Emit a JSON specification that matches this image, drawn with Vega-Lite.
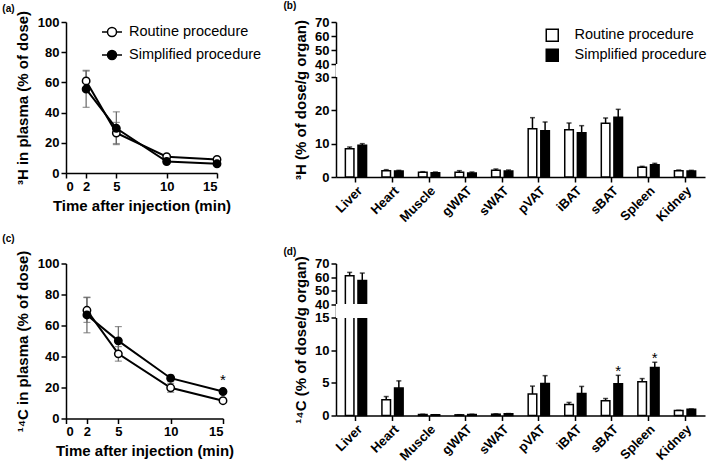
{
  "$schema": "https://vega.github.io/schema/vega-lite/v6.json",
  "padding": {"left": 2, "top": 1, "right": 0, "bottom": 0},
  "background": "white",
  "config": {
    "font": "Liberation Sans",
    "view": {"stroke": null},
    "axis": {"grid": false, "labelOverlap": false, "labelFontSize": 13, "labelFontWeight": "bold", "labelColor": "black", "titleFontSize": 15, "titleFontWeight": "bold", "titleColor": "black", "domainColor": "black", "domainWidth": 1.5, "tickColor": "black", "tickWidth": 1.5, "tickSize": 5},
    "title": {"fontSize": 10, "fontWeight": "bold", "anchor": "start", "frame": "bounds", "color": "black"},
    "legend": {"labelFontSize": 14.5, "labelColor": "black", "labelFontWeight": "normal", "labelFont": "Liberation Sans"}
  },
  "datasets": {
    "plasma3H": [
      {"t": 2, "group": "Routine procedure", "v": 61, "lo": 54, "hi": 68},
      {"t": 5, "group": "Routine procedure", "v": 26.5, "lo": 19.5, "hi": 33.5},
      {"t": 10, "group": "Routine procedure", "v": 10.8, "lo": 9.8, "hi": 11.8},
      {"t": 15, "group": "Routine procedure", "v": 9, "lo": 8.2, "hi": 9.8},
      {"t": 2, "group": "Simplified procedure", "v": 55.6, "lo": 43.5, "hi": 67.5},
      {"t": 5, "group": "Simplified procedure", "v": 29.6, "lo": 18.8, "hi": 40.5},
      {"t": 10, "group": "Simplified procedure", "v": 7.6, "lo": 6.8, "hi": 8.4},
      {"t": 15, "group": "Simplified procedure", "v": 6.1, "lo": 5.5, "hi": 6.7}
    ],
    "plasma14C": [
      {"t": 2, "group": "Routine procedure", "v": 69.8, "lo": 62, "hi": 78, "sig": ""},
      {"t": 5, "group": "Routine procedure", "v": 41.7, "lo": 37, "hi": 46.4, "sig": ""},
      {"t": 10, "group": "Routine procedure", "v": 19.8, "lo": 16.9, "hi": 22.7, "sig": ""},
      {"t": 15, "group": "Routine procedure", "v": 11.5, "lo": 10.5, "hi": 12.5, "sig": ""},
      {"t": 2, "group": "Simplified procedure", "v": 66.8, "lo": 55.3, "hi": 78.3, "sig": ""},
      {"t": 5, "group": "Simplified procedure", "v": 50.1, "lo": 41, "hi": 59.3, "sig": ""},
      {"t": 10, "group": "Simplified procedure", "v": 26, "lo": 24, "hi": 28, "sig": ""},
      {"t": 15, "group": "Simplified procedure", "v": 17.4, "lo": 16.4, "hi": 18.4, "sig": "*"}
    ],
    "organ3H": [
      {"organ": "Liver", "group": "Routine procedure", "v": 8.5, "hi": 9.0},
      {"organ": "Liver", "group": "Simplified procedure", "v": 9.5, "hi": 10.0},
      {"organ": "Heart", "group": "Routine procedure", "v": 1.9, "hi": 2.2},
      {"organ": "Heart", "group": "Simplified procedure", "v": 1.8, "hi": 2.0},
      {"organ": "Muscle", "group": "Routine procedure", "v": 1.4, "hi": 1.6},
      {"organ": "Muscle", "group": "Simplified procedure", "v": 1.3, "hi": 1.5},
      {"organ": "gWAT", "group": "Routine procedure", "v": 1.4, "hi": 1.9},
      {"organ": "gWAT", "group": "Simplified procedure", "v": 1.2, "hi": 1.5},
      {"organ": "sWAT", "group": "Routine procedure", "v": 2.0, "hi": 2.4},
      {"organ": "sWAT", "group": "Simplified procedure", "v": 1.8, "hi": 2.1},
      {"organ": "pVAT", "group": "Routine procedure", "v": 14.5, "hi": 17.8},
      {"organ": "pVAT", "group": "Simplified procedure", "v": 13.9, "hi": 16.5},
      {"organ": "iBAT", "group": "Routine procedure", "v": 14.2, "hi": 16.2},
      {"organ": "iBAT", "group": "Simplified procedure", "v": 13.3, "hi": 15.4},
      {"organ": "sBAT", "group": "Routine procedure", "v": 16.1, "hi": 17.7},
      {"organ": "sBAT", "group": "Simplified procedure", "v": 17.9, "hi": 20.3},
      {"organ": "Spleen", "group": "Routine procedure", "v": 2.9, "hi": 3.2},
      {"organ": "Spleen", "group": "Simplified procedure", "v": 3.7, "hi": 4.1},
      {"organ": "Kidney", "group": "Routine procedure", "v": 1.9, "hi": 2.1},
      {"organ": "Kidney", "group": "Simplified procedure", "v": 1.8, "hi": 2.0}
    ],
    "organ14C": [
      {"organ": "Liver", "group": "Routine procedure", "v": 61, "hi": 63.5, "sig": ""},
      {"organ": "Liver", "group": "Simplified procedure", "v": 57.5, "hi": 63, "sig": ""},
      {"organ": "Heart", "group": "Routine procedure", "v": 2.4, "hi": 2.9, "sig": ""},
      {"organ": "Heart", "group": "Simplified procedure", "v": 4.2, "hi": 5.3, "sig": ""},
      {"organ": "Muscle", "group": "Routine procedure", "v": 0.15, "hi": 0.2, "sig": ""},
      {"organ": "Muscle", "group": "Simplified procedure", "v": 0.1, "hi": 0.12, "sig": ""},
      {"organ": "gWAT", "group": "Routine procedure", "v": 0.1, "hi": 0.12, "sig": ""},
      {"organ": "gWAT", "group": "Simplified procedure", "v": 0.15, "hi": 0.2, "sig": ""},
      {"organ": "sWAT", "group": "Routine procedure", "v": 0.2, "hi": 0.25, "sig": ""},
      {"organ": "sWAT", "group": "Simplified procedure", "v": 0.25, "hi": 0.3, "sig": ""},
      {"organ": "pVAT", "group": "Routine procedure", "v": 3.3, "hi": 4.5, "sig": ""},
      {"organ": "pVAT", "group": "Simplified procedure", "v": 4.9, "hi": 6.1, "sig": ""},
      {"organ": "iBAT", "group": "Routine procedure", "v": 1.7, "hi": 2.0, "sig": ""},
      {"organ": "iBAT", "group": "Simplified procedure", "v": 3.35, "hi": 4.45, "sig": ""},
      {"organ": "sBAT", "group": "Routine procedure", "v": 2.25, "hi": 2.6, "sig": ""},
      {"organ": "sBAT", "group": "Simplified procedure", "v": 4.85, "hi": 6.15, "sig": "*"},
      {"organ": "Spleen", "group": "Routine procedure", "v": 5.15, "hi": 5.65, "sig": ""},
      {"organ": "Spleen", "group": "Simplified procedure", "v": 7.35, "hi": 8.15, "sig": "*"},
      {"organ": "Kidney", "group": "Routine procedure", "v": 0.75, "hi": 0.8, "sig": ""},
      {"organ": "Kidney", "group": "Simplified procedure", "v": 0.95, "hi": 1.0, "sig": ""}
    ]
  },
  "resolve": {"scale": {"fill": "independent"}, "legend": {"fill": "independent"}},
  "columns": 2,
  "bounds": "flush",
  "spacing": {"row": 86.5, "column": 113},
  "concat": [
    {
      "title": {"text": "(a)", "dx": -13, "offset": -4},
      "width": 151, "height": 151,
      "data": {"name": "plasma3H"},
      "encoding": {
        "x": {"field": "t", "type": "quantitative", "scale": {"domain": [0, 15], "nice": false}, "axis": {"values": [0, 2, 5, 10, 15], "tickCount": 20, "labelOverlap": false, "title": "Time after injection (min)", "titlePadding": 5}}
      },
      "layer": [
        {"mark": {"type": "rule", "color": "#666666", "strokeWidth": 1.2},
         "encoding": {"y": {"field": "lo", "type": "quantitative", "scale": {"domain": [0, 100], "nice": false}, "axis": {"values": [0, 20, 40, 60, 80, 100], "tickCount": 20, "labelOverlap": false, "title": "³H in plasma (% of dose)", "titlePadding": 7}}, "y2": {"field": "hi"}}},
        {"mark": {"type": "tick", "orient": "horizontal", "color": "#666666", "size": 7, "thickness": 1.2},
         "encoding": {"y": {"field": "lo", "type": "quantitative"}}},
        {"mark": {"type": "tick", "orient": "horizontal", "color": "#666666", "size": 7, "thickness": 1.2},
         "encoding": {"y": {"field": "hi", "type": "quantitative"}}},
        {"mark": {"type": "line", "color": "black", "strokeWidth": 2},
         "encoding": {"y": {"field": "v", "type": "quantitative"}, "detail": {"field": "group"}}},
        {"mark": {"type": "point", "size": 55, "stroke": "black", "strokeWidth": 1.5, "opacity": 1, "fillOpacity": 1},
         "encoding": {"y": {"field": "v", "type": "quantitative"},
           "fill": {"field": "group", "type": "nominal", "scale": {"domain": ["Routine procedure", "Simplified procedure"], "range": ["white", "black"]},
             "legend": {"title": null, "orient": "none", "legendX": 35, "legendY": -1, "symbolType": "M-1,0L-0.45,0M0.45,0L1,0M-0.45,0A0.45,0.45,0,1,0,0.45,0A0.45,0.45,0,1,0,-0.45,0Z", "symbolSize": 400, "symbolStrokeColor": "black", "symbolStrokeWidth": 1.5, "symbolOpacity": 1, "labelOffset": 6, "rowPadding": 4}}}}
      ]
    },
    {
      "title": {"text": "(b)", "dx": -10, "offset": 5},
      "width": 369, "height": 155,
      "data": {"name": "organ3H"},
      "layer": [
        {"mark": {"type": "bar", "stroke": "black", "strokeWidth": 1.5},
         "encoding": {
           "x": {"field": "organ", "type": "nominal", "sort": null, "scale": {"paddingInner": 0.42, "paddingOuter": 0.256}, "axis": {"labelAngle": -45, "title": null, "labelPadding": 2, "labelOverlap": false}},
           "xOffset": {"field": "group", "type": "nominal", "sort": null, "scale": {"paddingInner": 0.32, "paddingOuter": 0}},
           "y": {"field": "v", "type": "quantitative", "scale": {"domain": [0, 30, 40, 70], "range": [155, 55, 42, 0], "nice": false, "zero": false}, "axis": {"values": [0, 10, 20, 30, 40, 50, 60, 70], "tickCount": 20, "labelOverlap": false, "title": "³H (% of dose/g organ)", "titlePadding": 6}},
           "fill": {"field": "group", "type": "nominal", "scale": {"domain": ["Routine procedure", "Simplified procedure"], "range": ["white", "black"]},
             "legend": {"title": null, "orient": "none", "legendX": 209, "legendY": 6, "symbolType": "square", "symbolSize": 144, "symbolStrokeColor": "black", "symbolStrokeWidth": 1.5, "symbolOpacity": 1, "labelOffset": 15, "rowPadding": 1}}}},
        {"mark": {"type": "rule", "color": "black", "strokeWidth": 1.5},
         "encoding": {
           "x": {"field": "organ", "type": "nominal", "sort": null},
           "xOffset": {"field": "group", "type": "nominal", "sort": null},
           "y": {"field": "v", "type": "quantitative"}, "y2": {"field": "hi"}}},
        {"mark": {"type": "tick", "orient": "horizontal", "color": "black", "size": 5, "thickness": 1.5},
         "encoding": {
           "x": {"field": "organ", "type": "nominal", "sort": null},
           "xOffset": {"field": "group", "type": "nominal", "sort": null},
           "y": {"field": "hi", "type": "quantitative"}}},
        {"mark": {"type": "rect", "color": "white", "opacity": 1},
         "encoding": {"y": {"datum": 30}, "y2": {"datum": 40}}}
      ]
    },
    {
      "title": {"text": "(c)", "dx": -13, "offset": 6},
      "width": 157, "height": 155,
      "data": {"name": "plasma14C"},
      "encoding": {
        "x": {"field": "t", "type": "quantitative", "scale": {"domain": [0, 15], "nice": false}, "axis": {"values": [0, 2, 5, 10, 15], "tickCount": 20, "labelOverlap": false, "title": "Time after injection (min)", "titlePadding": 5}}
      },
      "layer": [
        {"mark": {"type": "rule", "color": "#666666", "strokeWidth": 1.2},
         "encoding": {"y": {"field": "lo", "type": "quantitative", "scale": {"domain": [0, 100], "nice": false}, "axis": {"values": [0, 20, 40, 60, 80, 100], "tickCount": 20, "labelOverlap": false, "title": "¹⁴C in plasma (% of dose)", "titlePadding": 7}}, "y2": {"field": "hi"}}},
        {"mark": {"type": "tick", "orient": "horizontal", "color": "#666666", "size": 7, "thickness": 1.2},
         "encoding": {"y": {"field": "lo", "type": "quantitative"}}},
        {"mark": {"type": "tick", "orient": "horizontal", "color": "#666666", "size": 7, "thickness": 1.2},
         "encoding": {"y": {"field": "hi", "type": "quantitative"}}},
        {"mark": {"type": "line", "color": "black", "strokeWidth": 2},
         "encoding": {"y": {"field": "v", "type": "quantitative"}, "detail": {"field": "group"}}},
        {"mark": {"type": "point", "size": 55, "stroke": "black", "strokeWidth": 1.5, "opacity": 1, "fillOpacity": 1},
         "encoding": {"y": {"field": "v", "type": "quantitative"},
           "fill": {"field": "group", "type": "nominal", "scale": {"domain": ["Routine procedure", "Simplified procedure"], "range": ["white", "black"]}, "legend": null}}},
        {"mark": {"type": "text", "fontSize": 15, "dy": -10, "color": "black"},
         "encoding": {"y": {"field": "hi", "type": "quantitative"}, "text": {"field": "sig"}}}
      ]
    },
    {
      "title": {"text": "(d)", "dx": -10, "offset": -1},
      "width": 369, "height": 152,
      "data": {"name": "organ14C"},
      "layer": [
        {"mark": {"type": "bar", "stroke": "black", "strokeWidth": 1.5},
         "encoding": {
           "x": {"field": "organ", "type": "nominal", "sort": null, "scale": {"paddingInner": 0.42, "paddingOuter": 0.256}, "axis": {"labelAngle": -45, "title": null, "labelPadding": 2, "labelOverlap": false}},
           "xOffset": {"field": "group", "type": "nominal", "sort": null, "scale": {"paddingInner": 0.32, "paddingOuter": 0}},
           "y": {"field": "v", "type": "quantitative", "scale": {"domain": [0, 15, 40, 70], "range": [152, 54, 41, 0], "nice": false, "zero": false}, "axis": {"values": [0, 5, 10, 15, 40, 50, 60, 70], "tickCount": 20, "labelOverlap": false, "title": "¹⁴C (% of dose/g organ)", "titlePadding": 6}},
           "fill": {"field": "group", "type": "nominal", "scale": {"domain": ["Routine procedure", "Simplified procedure"], "range": ["white", "black"]}, "legend": null}}},
        {"mark": {"type": "rule", "color": "black", "strokeWidth": 1.5},
         "encoding": {
           "x": {"field": "organ", "type": "nominal", "sort": null},
           "xOffset": {"field": "group", "type": "nominal", "sort": null},
           "y": {"field": "v", "type": "quantitative"}, "y2": {"field": "hi"}}},
        {"mark": {"type": "tick", "orient": "horizontal", "color": "black", "size": 5, "thickness": 1.5},
         "encoding": {
           "x": {"field": "organ", "type": "nominal", "sort": null},
           "xOffset": {"field": "group", "type": "nominal", "sort": null},
           "y": {"field": "hi", "type": "quantitative"}}},
        {"mark": {"type": "rect", "color": "white", "opacity": 1},
         "encoding": {"y": {"datum": 15}, "y2": {"datum": 40}}},
        {"mark": {"type": "text", "fontSize": 15, "dy": -4, "color": "black"},
         "encoding": {
           "x": {"field": "organ", "type": "nominal", "sort": null},
           "xOffset": {"field": "group", "type": "nominal", "sort": null},
           "y": {"field": "hi", "type": "quantitative"}, "text": {"field": "sig"}}}
      ]
    }
  ]
}
